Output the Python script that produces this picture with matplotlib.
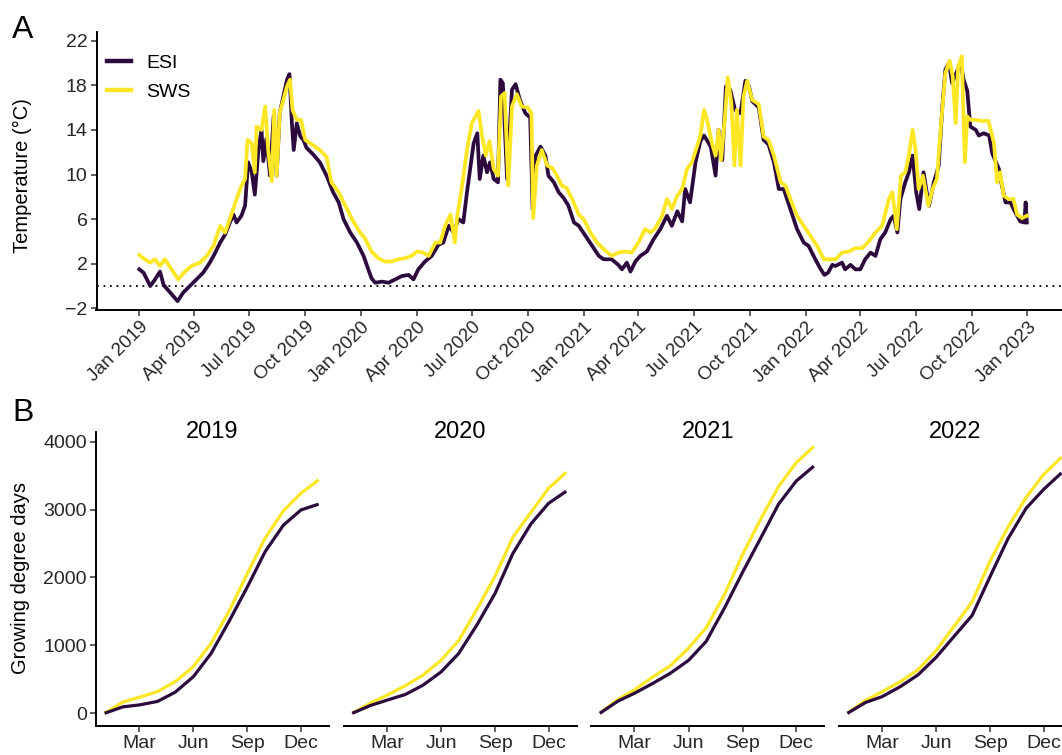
import numpy as np
import pandas as pd
import matplotlib
matplotlib.use("Agg")
import matplotlib.pyplot as plt
import matplotlib.dates as mdates

plt.rcParams['font.family'] = ['Liberation Sans', 'DejaVu Sans']

# ---- daily mean temperature, days counted from 2019-01-01 ----
esi_day = [0, 7, 18, 26, 34, 40, 51, 63, 72, 83, 94, 105, 116, 125, 133, 141, 149, 155, 160, 168,
           174, 179, 185, 190, 196, 201, 204, 209, 215, 221, 226, 231, 237, 243, 247, 251, 254, 259,
           265, 270, 275, 286, 297, 308, 319, 328, 336, 347, 358, 369, 376, 382, 388,
           399, 410, 421, 432, 443, 451, 459, 470, 481, 492, 500, 509, 517, 525, 533, 539, 545, 550,
           556, 560, 566, 572, 577, 583, 590, 594, 598, 605, 613, 619, 626, 635, 643, 647, 652, 660,
           668, 673, 682, 690, 698, 706, 715, 723, 734, 745, 756, 764,
           777, 788, 794, 802, 808, 816, 824, 835, 846, 857, 868, 876, 885, 893, 898, 906, 915, 923,
           929, 940, 948, 953, 959, 965, 972, 980, 989, 997, 1003, 1008, 1019, 1027, 1035, 1044,
           1052, 1060, 1071, 1082, 1093, 1101, 1112, 1120, 1127, 1133, 1140,
           1145, 1156, 1161, 1170, 1178, 1186, 1194, 1203, 1211, 1219, 1227, 1236, 1241, 1247, 1252,
           1260, 1266, 1272, 1278, 1283, 1290, 1299, 1307, 1315, 1321, 1326, 1332, 1337, 1344, 1351,
           1356, 1362, 1367, 1376, 1381, 1389, 1398, 1403, 1414, 1419, 1425, 1433, 1441, 1449, 1456,
           1458, 1460]
esi_temp = [1.5, 1.2, 0.0, 0.6, 1.3, 0.1, -0.6, -1.35, -0.6, 0.0, 0.6, 1.2, 2.1, 3.0, 3.9, 4.6, 5.7, 6.4, 5.7, 6.3,
            7.2, 11.1, 10.2, 8.2, 12.2, 14.0, 11.2, 13.2, 9.9, 15.2, 9.9, 15.5, 17.0, 18.5, 19.0, 14.6, 12.2, 14.6,
            13.4, 13.1, 12.4, 11.8, 11.1, 9.9, 8.4, 7.5, 6.0, 4.8, 3.9, 2.7, 1.6, 0.7, 0.3,
            0.4, 0.3, 0.6, 0.9, 1.0, 0.6, 1.5, 2.2, 2.7, 3.7, 3.9, 5.4, 4.8, 6.0, 5.7, 8.4, 10.8, 12.8,
            13.7, 9.6, 11.7, 10.2, 11.1, 9.6, 9.3, 18.5, 18.2, 9.6, 17.6, 18.1, 16.7, 15.5, 15.1, 6.9, 11.7, 12.5,
            11.7, 9.9, 9.3, 8.4, 7.9, 7.2, 5.7, 5.4, 4.5, 3.6, 2.7, 2.4,
            2.4, 1.9, 1.5, 2.1, 1.3, 2.2, 2.7, 3.1, 4.2, 5.1, 6.3, 5.4, 6.7, 5.8, 8.7, 7.5, 11.1, 13.0,
            13.5, 12.5, 9.9, 14.0, 11.3, 17.9, 17.6, 15.8, 15.5, 18.4, 17.9, 16.6, 16.0, 13.1, 12.7, 11.1,
            8.7, 8.7, 6.9, 5.1, 3.9, 3.6, 2.4, 1.6, 1.0, 1.2, 1.9,
            1.8, 2.1, 1.5, 1.9, 1.5, 1.5, 2.4, 3.0, 2.7, 4.2, 4.8, 6.0, 6.3, 4.8, 7.8,
            9.3, 10.2, 11.7, 8.4, 6.9, 10.2, 7.2, 9.3, 10.8, 16.1, 19.4, 20.0, 18.2, 19.1, 20.0,
            18.5, 17.5, 14.3, 14.0, 13.5, 13.7, 13.5, 11.9, 10.5, 9.0, 7.5, 7.5, 6.6, 5.8, 5.7,
            7.5, 5.7]

sws_day = [0, 9, 18, 26, 34, 42, 53, 64, 75, 86, 100, 111, 122, 133, 141, 149, 160, 168, 174, 178,
           185, 190, 193, 201, 207, 212, 218, 222, 226, 231, 237, 243, 248, 252, 259, 266, 273, 284,
           297, 308, 316, 328, 339, 350, 363, 371,
           382, 393, 404, 415, 426, 437, 448, 457, 467, 476, 487, 495, 503, 512, 519, 523, 531, 539,
           547, 558, 564, 570, 576, 583, 590, 595, 601, 607, 613, 621, 629, 639, 645, 648, 654, 662,
           671, 679, 687, 695, 703, 712, 723, 731, 742, 753, 764,
           777, 788, 799, 810, 821, 832, 841, 849, 860, 868, 876, 885, 893, 901, 909, 918, 923, 929,
           934, 942, 948, 953, 957, 963, 968, 974, 979, 983, 989, 994, 1000, 1008, 1019, 1027, 1035,
           1044, 1055, 1063, 1071, 1082, 1093, 1104, 1115, 1126, 1137,
           1145, 1156, 1167, 1178, 1189, 1200, 1211, 1222, 1233, 1239, 1246, 1253, 1260, 1266, 1272,
           1277, 1282, 1289, 1298, 1305, 1312, 1319, 1326, 1333, 1338, 1343, 1347, 1353, 1358, 1362,
           1367, 1376, 1386, 1397, 1406, 1411, 1416, 1422, 1430, 1438, 1444, 1452, 1460]
sws_temp = [2.8, 2.4, 2.1, 2.4, 1.8, 2.4, 1.5, 0.6, 1.3, 1.8, 2.1, 2.7, 3.6, 5.4, 4.8, 6.0, 7.8, 9.0, 9.6, 13.1,
            12.8, 10.2, 14.3, 14.0, 16.1, 12.2, 9.4, 15.8, 9.9, 15.5, 16.7, 17.9, 18.5, 15.8, 14.9, 14.9, 13.1, 12.7,
            12.2, 11.6, 9.3, 8.4, 7.2, 6.0, 4.8, 4.3,
            3.1, 2.5, 2.2, 2.2, 2.4, 2.5, 2.7, 3.1, 3.0, 2.7, 3.9, 3.9, 5.4, 6.4, 3.9, 6.3, 9.0, 12.2,
            14.6, 15.7, 13.4, 11.7, 13.0, 10.5, 9.9, 17.0, 17.3, 9.0, 16.1, 17.2, 16.1, 16.0, 15.5, 6.1, 10.8, 12.2,
            10.8, 10.6, 9.9, 9.0, 8.8, 7.8, 6.4, 6.0, 4.8, 3.9, 3.3,
            2.7, 3.0, 3.1, 3.0, 3.9, 5.1, 4.8, 5.2, 6.3, 7.8, 6.9, 8.1, 8.7, 10.5, 11.1, 12.6, 13.5, 15.8,
            14.9, 12.8, 11.7, 14.0, 11.3, 14.9, 18.7, 16.4, 10.8, 15.8, 10.8, 17.0, 18.4, 16.7, 16.3, 13.4, 13.1,
            11.7, 9.3, 9.0, 7.8, 6.3, 5.4, 4.5, 3.6, 2.4, 2.4,
            2.4, 3.0, 3.1, 3.4, 3.4, 4.0, 4.8, 5.4, 7.8, 8.4, 5.1, 9.9, 10.2, 11.7, 14.0,
            12.2, 8.7, 9.9, 7.2, 8.7, 9.6, 14.6, 19.1, 20.2, 18.8, 14.6, 19.7, 20.6, 11.1, 15.2,
            14.9, 14.9, 14.8, 14.8, 12.8, 9.3, 10.2, 8.1, 7.8, 7.8, 6.4, 6.1, 6.3]

# ---- cumulative growing degree days, read at the start of each month ----
years = [2019, 2020, 2021, 2022]
gdd_doy = [0, 31, 59, 90, 120, 151, 181, 212, 243, 273, 304, 334, 364]
gdd_esi = {
    2019: [0, 95, 123, 175, 310, 540, 880, 1360, 1865, 2380, 2770, 2995, 3080],
    2020: [0, 115, 193, 276, 412, 608, 880, 1300, 1767, 2350, 2790, 3093, 3270],
    2021: [0, 180, 295, 440, 590, 780, 1060, 1550, 2080, 2570, 3080, 3420, 3640],
    2022: [0, 160, 245, 393, 565, 825, 1129, 1440, 2020, 2570, 3020, 3300, 3540],
}
gdd_sws = {
    2019: [0, 165, 236, 320, 465, 687, 1030, 1510, 2062, 2580, 2980, 3240, 3440],
    2020: [0, 150, 265, 405, 560, 780, 1070, 1530, 2020, 2590, 2960, 3314, 3550],
    2021: [0, 205, 344, 535, 700, 960, 1260, 1750, 2340, 2850, 3340, 3690, 3930],
    2022: [0, 190, 319, 466, 640, 925, 1276, 1640, 2250, 2740, 3180, 3520, 3770],
}

ESI_COL = '#2c0a3e'
SWS_COL = '#fde725'
TICK_COL = '#262626'
W, H = 1062, 755


def px_box(left, top, right, bottom):
    return [left / W, 1 - bottom / H, (right - left) / W, (bottom - top) / H]


def style_axis(ax):
    for s in ['top', 'right']:
        ax.spines[s].set_visible(False)
    for s in ['left', 'bottom']:
        ax.spines[s].set_linewidth(1.4)
    ax.tick_params(length=4, width=1.1, color='#333333', labelcolor=TICK_COL,
                   labelsize=14, pad=2.5)


fig = plt.figure(figsize=(W / 100, H / 100), dpi=100)

# ---- panel A: temperature time series ----
start = pd.Timestamp('2019-01-01')
esi_dates = start + pd.to_timedelta(esi_day, unit='D')
sws_dates = start + pd.to_timedelta(sws_day, unit='D')

axA = fig.add_axes(px_box(96.5, 32.3, 1069.4, 309.5))
axA.axhline(0, color='black', lw=1.3, linestyle=(0, (1, 2.6)), zorder=1)
axA.plot(esi_dates, esi_temp, color=ESI_COL, lw=2.7, label='ESI', zorder=2,
         solid_joinstyle='round')
axA.plot(sws_dates, sws_temp, color=SWS_COL, lw=2.7, label='SWS', zorder=3,
         solid_joinstyle='round')
axA.set_xlim(start - pd.Timedelta(days=70.4), start + pd.Timedelta(days=1530))
axA.set_ylim(-2.1, 22.75)
axA.set_yticks([-2, 2, 6, 10, 14, 18, 22])
quarters = pd.date_range('2019-01-01', '2023-01-01', freq='QS')
axA.set_xticks(quarters)
axA.xaxis.set_major_formatter(mdates.DateFormatter('%b %Y'))
style_axis(axA)
axA.tick_params(axis='x', labelsize=13.5)
plt.setp(axA.get_xticklabels(), rotation=45, ha='right', va='top',
         rotation_mode='anchor')
leg = axA.legend(loc='upper left', bbox_to_anchor=(0.0108, 0.922), frameon=False,
                 fontsize=14, handlelength=1.25, handletextpad=0.75,
                 labelspacing=0.6, borderpad=0, borderaxespad=0)
for line in leg.get_lines():
    line.set_linewidth(3.2)

fig.text(22 / W, 1 - 176 / H, 'Temperature (°C)', rotation=90, ha='center',
         va='center', fontsize=14.5)
fig.text(12 / W, 1 - 38 / H, 'A', fontsize=23, ha='left', va='baseline')

# ---- panel B: growing degree days, one facet per year ----
month_ticks = [59, 151, 243, 334]
month_labels = ['Mar', 'Jun', 'Sep', 'Dec']
for i, yr in enumerate(years):
    left = 96 + 247.6 * i
    ax = fig.add_axes(px_box(left, 431.7, left + 233, 726))
    ax.plot(gdd_doy, gdd_sws[yr], color=SWS_COL, lw=2.3, solid_capstyle='butt')
    ax.plot(gdd_doy, gdd_esi[yr], color=ESI_COL, lw=2.3, solid_capstyle='butt')
    ax.set_xlim(-14.6, 381.6)
    ax.set_ylim(-187, 4147)
    ax.set_xticks(month_ticks)
    ax.set_xticklabels(month_labels)
    ax.set_yticks([0, 1000, 2000, 3000, 4000])
    style_axis(ax)
    if i > 0:
        ax.spines['left'].set_visible(False)
        ax.tick_params(axis='y', left=False, labelleft=False)
    fig.text((left + 116.5) / W, 1 - 432 / H, str(yr), ha='center', va='center',
             fontsize=17)

fig.text(21 / W, 1 - 578 / H, 'Growing degree days', rotation=90, ha='center',
         va='center', fontsize=14.5)
fig.text(12 / W, 1 - 421 / H, 'B', fontsize=23, ha='left', va='baseline')

fig.savefig('out.png', dpi=100)
